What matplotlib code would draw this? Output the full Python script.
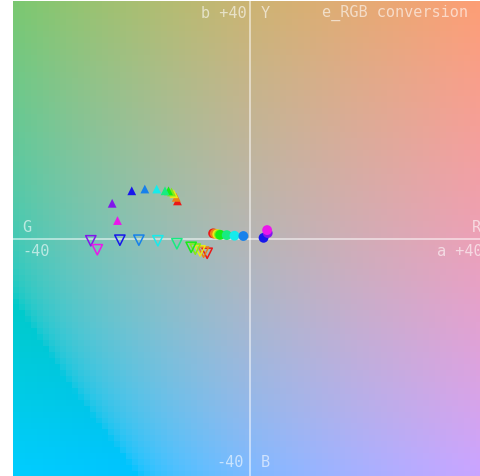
import numpy as np
import matplotlib
matplotlib.use("Agg")
import matplotlib.pyplot as plt
from matplotlib.colors import hsv_to_rgb

# Hue angles (degrees) of the sample colours, red -> magenta
hues = [0, 30, 60, 90, 120, 150, 180, 210, 240, 270, 300]

# Filled up-triangles (a, b)
up_a = [-12.3, -12.5, -12.9, -13.3, -13.8, -14.4, -15.8, -17.8, -20.0, -23.3, -22.4]
up_b = [6.4, 7.0, 7.6, 7.9, 8.1, 8.1, 8.4, 8.4, 8.1, 6.0, 3.1]

# Open down-triangles (a, b)
down_a = [-7.3, -7.9, -8.5, -9.3, -10.0, -12.4, -15.6, -18.8, -22.0, -26.9, -25.8]
down_b = [-2.4, -2.2, -2.0, -1.7, -1.4, -0.8, -0.3, -0.2, -0.2, -0.3, -1.8]

# Filled circles (a, b)
dot_a = [-6.3, -6.0, -5.6, -5.3, -5.1, -4.0, -2.7, -1.2, 2.2, 2.9, 2.8]
dot_b = [0.95, 0.9, 0.8, 0.75, 0.7, 0.65, 0.55, 0.5, 0.2, 1.0, 1.5]

L_STAR = 74.0
LIM = 40


def lab_to_srgb(L, a, b):
    L = np.full_like(a, L, dtype=float)
    fy = (L + 16) / 116
    fx = fy + a / 500
    fz = fy - b / 200
    d = 6 / 29

    def finv(t):
        return np.where(t > d, t ** 3, 3 * d * d * (t - 4 / 29))

    X = 0.95047 * finv(fx)
    Y = 1.00000 * finv(fy)
    Z = 1.08883 * finv(fz)
    M = np.array([[3.2406, -1.5372, -0.4986],
                  [-0.9689, 1.8758, 0.0415],
                  [0.0557, -0.2040, 1.0570]])
    rgb = np.stack([X, Y, Z], axis=-1) @ M.T
    rgb = np.clip(rgb, 0, 1)
    return np.where(rgb <= 0.0031308, 12.92 * rgb,
                    1.055 * np.power(rgb, 1 / 2.4) - 0.055)


W, H = 481, 477
fig = plt.figure(figsize=(W / 100, H / 100), dpi=100)
ax = fig.add_axes([13 / W, -1 / H, 475 / W, 476 / H])
ax.set_xlim(-LIM, LIM)
ax.set_ylim(-LIM, LIM)
ax.axis("off")

# a*b* plane background (reds and yellows slightly softened)
n = 80
g = np.linspace(-LIM, LIM, n)
A, B = np.meshgrid(g, g)
A_eff = np.where(A > 0, 0.8 * A, 1.02 * A)
B_eff = np.where(B > 0, 0.9 * B, 1.02 * B)
bg = lab_to_srgb(L_STAR, A_eff, B_eff)
ax.imshow(bg, origin="lower", extent=(-LIM, LIM, -LIM, LIM),
          interpolation="nearest", aspect="auto", zorder=0)

ax.axhline(0, color="white", lw=1.2, alpha=0.6, zorder=1)
ax.axvline(0, color="white", lw=1.2, alpha=0.6, zorder=1)

cols = [hsv_to_rgb((h / 360, 0.9, 0.92)) for h in hues]

ax.scatter(dot_a, dot_b, s=50, c=cols, marker="o", edgecolors="none", zorder=3)
ax.scatter(up_a, up_b, s=40, c=cols, marker="^", edgecolors="none", zorder=3)
ax.scatter(down_a, down_b, s=55, marker="v", facecolors="none",
           edgecolors=cols, linewidths=1.1, zorder=3)

# Axis annotations
tcol = (1, 1, 1, 0.6)
font = dict(family="DejaVu Sans Mono", fontsize=11, color=tcol)


def label(x, y, s, ha="left"):
    fig.text(x / W, 1 - y / H, s, ha=ha, va="center", **font)


label(247, 13, "b +40", ha="right")
label(261, 13, "Y")
label(468, 13, "e_RGB conversion", ha="right")
label(22, 228, "G")
label(22, 252, "-40")
label(472, 228, "R")
label(437, 252, "a +40")
label(244, 463, "-40", ha="right")
label(261, 463, "B")

fig.savefig("out.png", dpi=100)
